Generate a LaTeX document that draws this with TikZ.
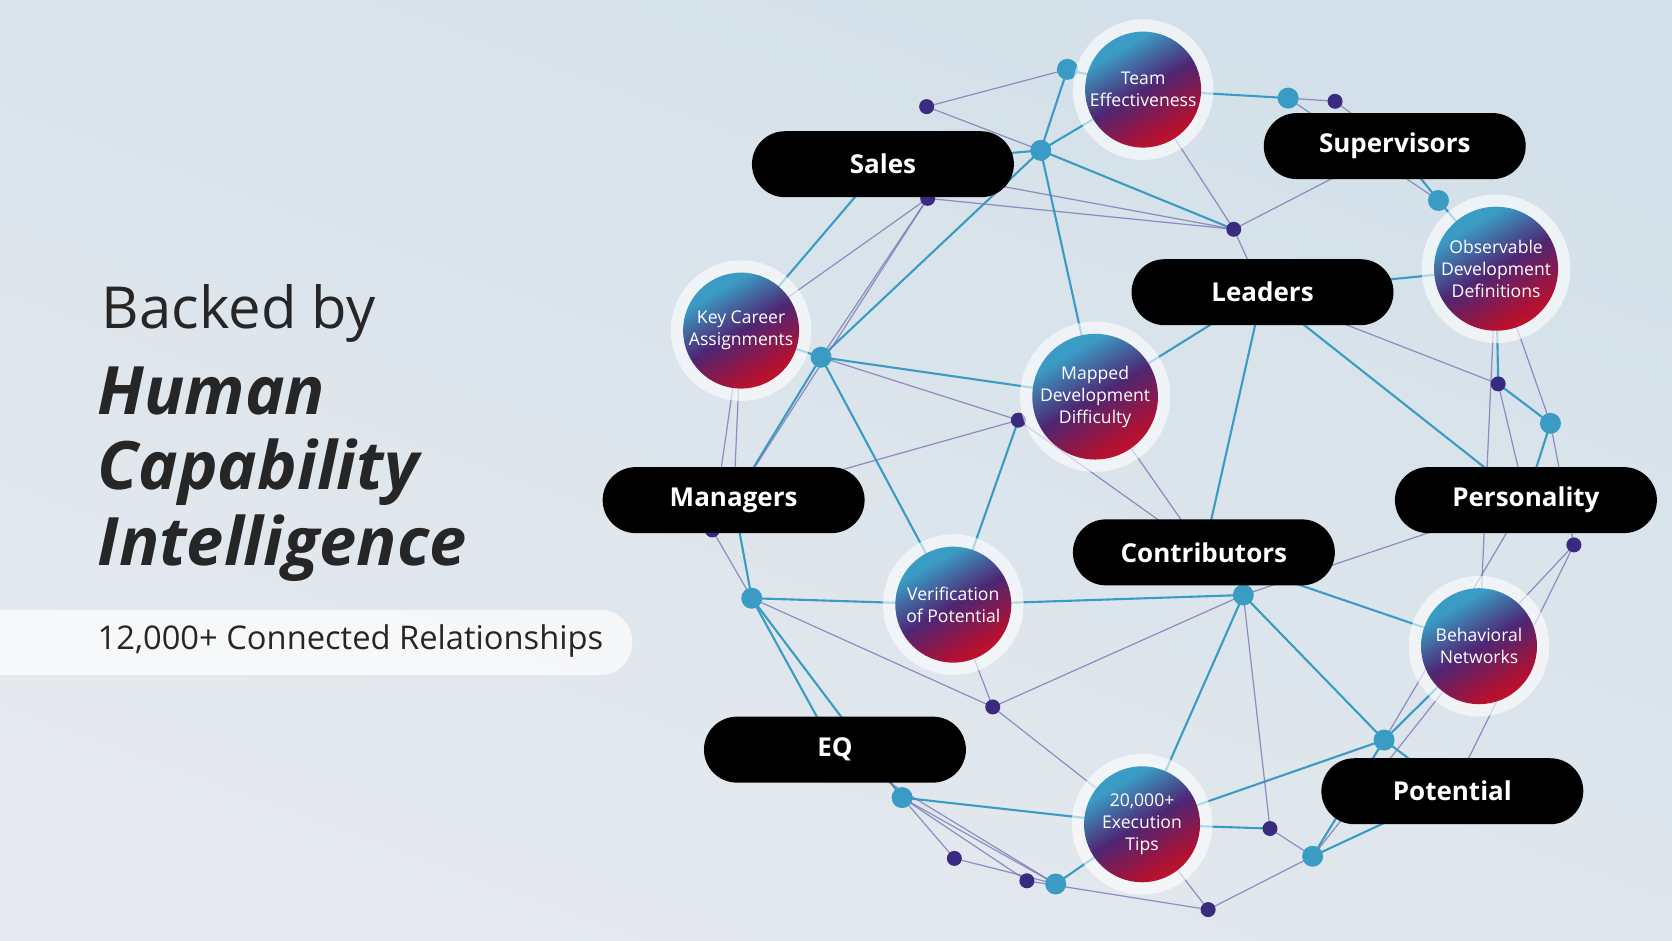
\documentclass[tikz,border=0pt]{standalone}
\usepackage{fontspec}
\setmainfont{Open Sans}
\usetikzlibrary{backgrounds}
\definecolor{tealdot}{HTML}{3A9CC4}
\definecolor{purpdot}{HTML}{3A2A80}
\definecolor{thinline}{HTML}{7A78B8}
\definecolor{bgtop}{HTML}{D3E0E9}
\definecolor{bgbot}{HTML}{E6EAEE}
\pgfdeclarehorizontalshading{orb}{100bp}{color(0bp)=(tealdot); color(30bp)=(tealdot); color(50bp)=(purpdot!90!red); color(70bp)=(red!60!purpdot); color(100bp)=(red!80!orange)}
\tikzset{
  x=0.01066cm, y=-0.01066cm,
  orb/.style={circle, minimum size=1.16cm, shading=orb, shading angle=-60,
    text=white, align=center, font=\fontsize{5}{6.3}\selectfont, inner sep=0pt,
    preaction={draw=white, draw opacity=0.6, line width=7pt}},
  pill/.style={rounded corners=3.3mm, fill=black, text=white, minimum width=2.62cm,
    minimum height=0.66cm, font=\fontsize{7.4}{9}\selectfont\bfseries},
  bigdot/.style={circle, fill=tealdot, minimum size=0.21cm, inner sep=0pt},
  smalldot/.style={circle, fill=purpdot, minimum size=0.15cm, inner sep=0pt},
  edge/.style={tealdot, line width=0.6pt},
  faint/.style={thinline, line width=0.35pt, opacity=0.8},
}
\begin{document}
\begin{tikzpicture}
\useasboundingbox (0,0) rectangle (1568,882);

% title block
\node[anchor=west, font=\fontsize{16.5}{18}\selectfont, text=black!85] (backed) at (84,294) {Backed by};
\node[anchor=north west, align=left, font=\fontsize{19}{21.5}\selectfont\bfseries\itshape, text=black!85] (hci) at (80,332)
  {Human\\Capability\\Intelligence};
\fill[white, opacity=0.7, rounded corners=3.2mm] (-40,572) rectangle (593,633);
\node[anchor=west, font=\fontsize{9.3}{11}\selectfont, text=black!85] (rel) at (80,601) {12,000+ Connected Relationships};

% dots
\foreach \n/\x/\y in {t1/1001/65, t2/1208/92, t3/976/141, t4/1349/188, t5/770/335, t6/1454/397,
  t7/705/561, t8/1166/558, t9/1298/694, t10/846/748, t11/990/829, t12/1231/803}
  \node[bigdot] (\n) at (\x,\y) {};
\foreach \n/\x/\y in {p1/869/100, p2/1252/95, p3/870/186, p4/1157/215, p5/955/394, p6/1405/360,
  p7/1476/511, p8/668/497, p9/931/663, p10/1191/777, p11/895/805, p12/963/826, p13/1133/853}
  \node[smalldot] (\n) at (\x,\y) {};

% spheres
\node[orb] (team) at (1072,84) {Team\\Effectiveness};
\node[orb] (obs) at (1403,252) {Observable\\Development\\Definitions};
\node[orb] (key) at (695,310) {Key Career\\Assignments};
\node[orb] (mapped) at (1027,372) {Mapped\\Development\\Difficulty};
\node[orb] (verif) at (894,567) {Verification\\of Potential};
\node[orb] (behav) at (1387,606) {Behavioral\\Networks};
\node[orb] (tips) at (1071,773) {20,000+\\Execution\\Tips};

% labels
\node[pill] (sales) at (828,154) {Sales};
\node[pill] (superv) at (1308,137) {Supervisors};
\node[pill] (leaders) at (1184,274) {Leaders};
\node[pill] (managers) at (688,469) {Managers};
\node[pill] (person) at (1431,469) {Personality};
\node[pill] (contrib) at (1129,518) {Contributors};
\node[pill] (eq) at (783,703) {EQ};
\node[pill] (potential) at (1362,742) {Potential};

\begin{scope}[on background layer]
\shade[top color=bgtop, bottom color=bgbot, shading angle=-20] (0,0) rectangle (1568,882);
\foreach \a/\b in {team/t1, team/t2, team/t3, t1/t3, t3/sales, t3/t5, t3/mapped, t5/mapped, t5/key,
  t5/managers, t5/verif, t4/obs, superv/t4, obs/p6, p6/t6, mapped/leaders, leaders/contrib,
  contrib/behav, behav/t9, t9/t12, t9/tips, t9/potential, t8/tips, t8/verif, t8/t9, t7/managers,
  t7/eq, t7/t10, t10/tips, t11/tips, t12/potential, p5/verif, key/sales, t6/person, obs/leaders,
  leaders/person, t3/p4, verif/t7, tips/p10}
  \draw[edge] (\a.center) -- (\b.center);
\foreach \a/\b in {t1/p1, t2/p2, p1/t3, p3/p4, p3/t5, p3/key, p3/managers, p4/superv, p4/leaders,
  p5/t5, p5/managers, p5/contrib, p6/leaders, p6/person, p7/t6, p7/behav, p7/potential, p8/key,
  p8/t7, p9/verif, p9/t8, p9/tips, p9/t7, p10/t12, p10/t8, p11/t10, p11/t11, p12/t10, p12/p13,
  p13/t12, p13/tips, t2/t4, team/p4, sales/p4, mapped/contrib, t8/person, key/managers,
  behav/obs, t11/t10, p2/superv, behav/t12, eq/t11, obs/t6, t9/person}
  \draw[faint] (\a.center) -- (\b.center);
\end{scope}
\end{tikzpicture}
\end{document}
